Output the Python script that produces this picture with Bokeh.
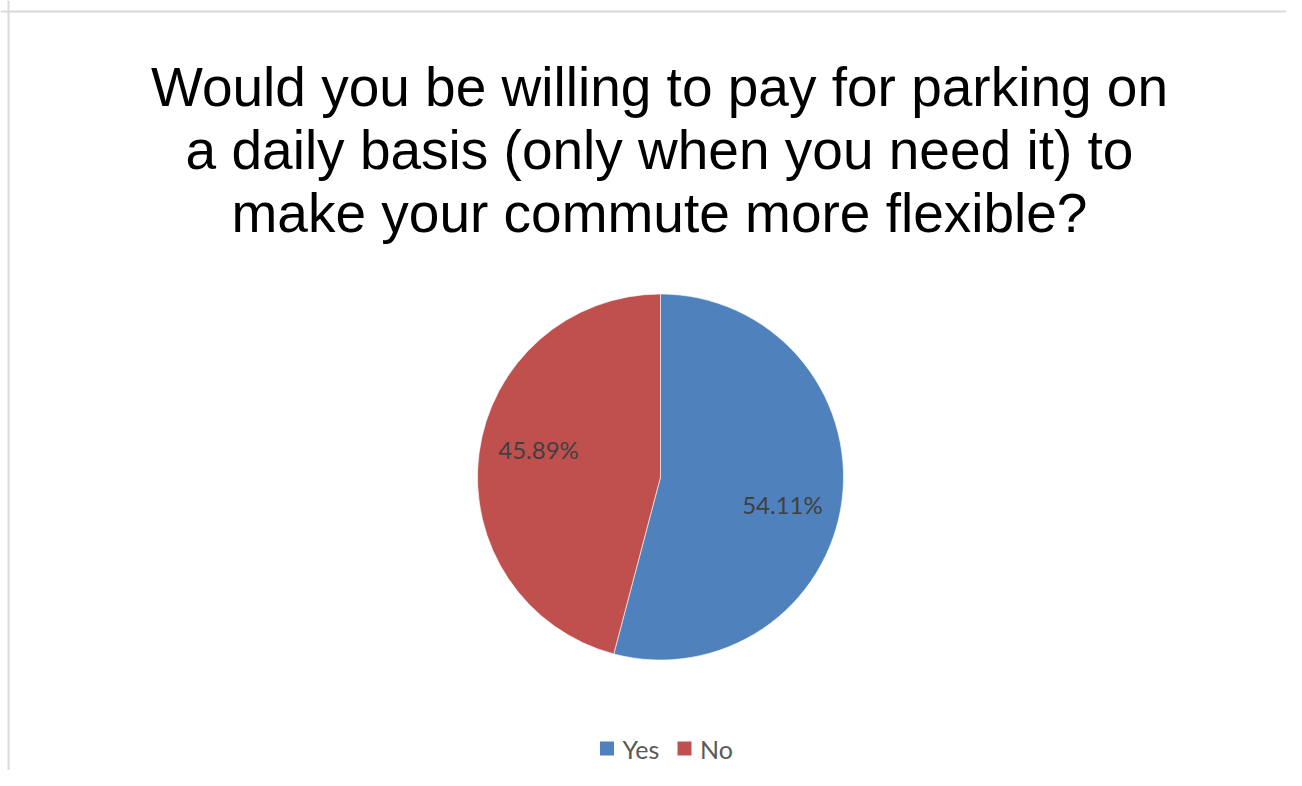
import math
from bokeh.plotting import figure
from bokeh.models import Range1d, Span
from bokeh.core.properties import value
from bokeh.embed import file_html
from bokeh.resources import INLINE

# ---- data ----
title_lines = [
    "Would you be willing to pay for parking on",
    "a daily basis (only when you need it) to",
    "make your commute more flexible?",
]
categories = ["Yes", "No"]
shares = [54.11, 45.89]
colors = ["#4F81BD", "#C0504D"]

# ---- layout ----
W, H = 1286, 770
PAGE = 0


def sx(X):
    return X - PAGE


def sy(Y):
    return H - (Y - PAGE)


p = figure(width=W, height=H, output_backend="svg", toolbar_location=None,
           x_range=Range1d(0, W), y_range=Range1d(0, H),
           min_border=0, outline_line_color=None)
p.axis.visible = False
p.grid.visible = False
p.background_fill_color = "white"
p.border_fill_color = "white"

# chart border (only top/left visible in the reference crop)
p.add_layout(Span(location=sy(11), dimension="width", line_color="#D9D9D9", line_width=2))
p.add_layout(Span(location=sx(8), dimension="height", line_color="#D9D9D9", line_width=2))

# title
title_baselines = [86, 149.3, 212.6]
p.text(x=[sx(659)] * len(title_lines), y=[sy(b) for b in title_baselines],
       text=title_lines, text_font=value("Liberation Sans"),
       text_font_size="55px", text_color="black",
       text_align="center", text_baseline="alphabetic")

# pie
cx, cy, R = sx(660), sy(476.5), 183
total = sum(shares)
starts, ends, mids = [], [], []
a = math.pi / 2
for v in shares:
    sweep = 2 * math.pi * v / total
    starts.append(a - sweep)
    ends.append(a)
    mids.append(a - sweep / 2)
    a -= sweep
p.wedge(x=cx, y=cy, radius=R, start_angle=starts, end_angle=ends,
        fill_color=colors, line_color="white", line_width=0.6)

# data labels
lab_r = 125
lab_off = math.radians(-5.3)
lx = [cx + lab_r * math.cos(m + lab_off) for m in mids]
ly = [cy + lab_r * math.sin(m + lab_off) for m in mids]
p.text(x=lx, y=ly, text=[f"{v:.2f}%" for v in shares],
       text_font=value("Lato"), text_font_size="24px", text_color="#404040",
       text_align="center", text_baseline="middle")

# legend
leg_x0, leg_step, leg_y = 606.5, 77.5, 748
mx = [sx(leg_x0 + i * leg_step) for i in range(len(categories))]
p.scatter(x=mx, y=[sy(leg_y)] * len(categories), marker="square", size=14,
          fill_color=colors, line_color=None)
p.text(x=[m + 15.5 for m in mx], y=[sy(leg_y)] * len(categories), text=categories,
       text_font=value("Lato"), text_font_size="25px", text_color="#595959",
       text_align="left", text_baseline="middle")

open("out.html", "w").write(file_html(p, INLINE))
